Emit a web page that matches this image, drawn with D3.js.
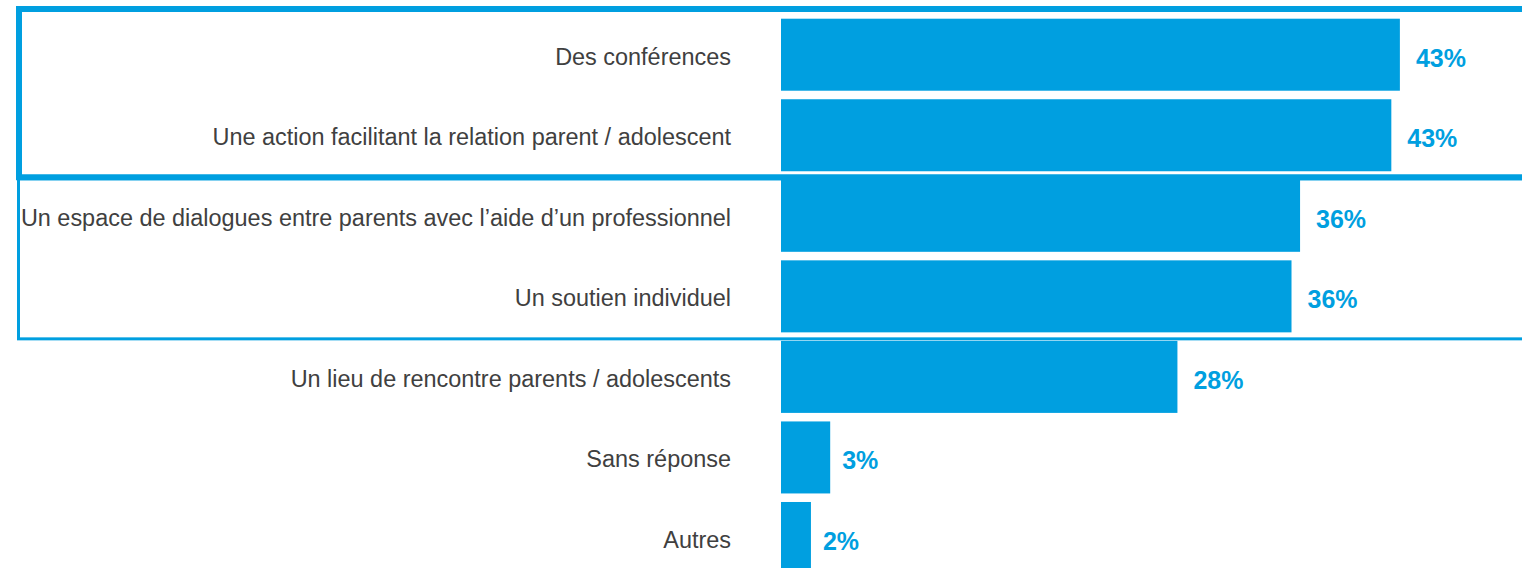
<!DOCTYPE html>
<html>
<head>
<meta charset="utf-8">
<script src="https://cdn.jsdelivr.net/npm/d3@7"></script>
<style>
  body { margin: 0; background: #fff; }
  svg { display: block; }
</style>
</head>
<body>
<script>
// data
const categories = [
  'Des conférences',
  'Une action facilitant la relation parent / adolescent',
  'Un espace de dialogues entre parents avec l\u2019aide d\u2019un professionnel',
  'Un soutien individuel',
  'Un lieu de rencontre parents / adolescents',
  'Sans réponse',
  'Autres'
];
const values = [43.4, 42.8, 36.4, 35.8, 27.8, 3.45, 2.1];
const valueLabels = ['43%', '43%', '36%', '36%', '28%', '3%', '2%'];
// groups outlined by a frame: [first index, last index]
const frames = [[2, 3], [0, 1]];

const W = 1522, H = 568;
const blue = '#009fe0';

let svg = d3.select('body')
  .append('svg')
  .attr('width', W)
  .attr('height', H);

let x = d3.scaleLinear().domain([0, 50]).range([781, 781 + 713]);

let step = 80.55;
let y = d3.scaleBand()
  .domain(categories)
  .range([18.7, 18.7 + 7 * step - 8.55])
  .paddingInner(0.106)
  .paddingOuter(0);

let data = categories.map((c, i) => ({ cat: c, v: values[i], label: valueLabels[i] }));

// bars
svg.selectAll('.bar')
  .data(data)
  .enter()
  .append('rect')
  .attr('class', 'bar')
  .attr('x', x(0))
  .attr('y', (d) => y(d.cat))
  .attr('width', (d) => x(d.v) - x(0))
  .attr('height', y.bandwidth())
  .attr('fill', blue);

// category labels
svg.selectAll('.cat')
  .data(data)
  .enter()
  .append('text')
  .attr('class', 'cat')
  .attr('x', 731)
  .attr('y', (d) => y(d.cat) + y.bandwidth() / 2 + 10)
  .attr('text-anchor', 'end')
  .style('font-family', '"Liberation Sans", Arial, sans-serif')
  .style('font-size', '23.45px')
  .attr('fill', '#404040')
  .text((d) => d.cat);

// value labels (small ones sit a bit closer to their bar)
svg.selectAll('.val')
  .data(data)
  .enter()
  .append('text')
  .attr('class', 'val')
  .attr('x', (d) => x(d.v) + (d.v < 10 ? 12 : 16))
  .attr('y', (d) => y(d.cat) + y.bandwidth() / 2 + 12)
  .style('font-family', '"Liberation Sans", Arial, sans-serif')
  .style('font-size', '25px')
  .style('font-weight', 'bold')
  .attr('fill', blue)
  .text((d) => d.label);

// frames round the top groups
let frameStyle = [
  { left: 18.5, top: -1, bottom: 6.5, sw: 3 },
  { left: 19, top: -9.7, bottom: 6, sw: 6 }
];
frames.forEach((f, i) => {
  let s = frameStyle[i];
  let top = y(categories[f[0]]) + s.top;
  let bottom = y(categories[f[1]]) + y.bandwidth() + s.bottom;
  svg.append('rect')
    .attr('x', s.left)
    .attr('y', top)
    .attr('width', W + 20 - s.left)
    .attr('height', bottom - top)
    .attr('fill', 'none')
    .attr('stroke', blue)
    .attr('stroke-width', s.sw);
});
</script>
</body>
</html>
